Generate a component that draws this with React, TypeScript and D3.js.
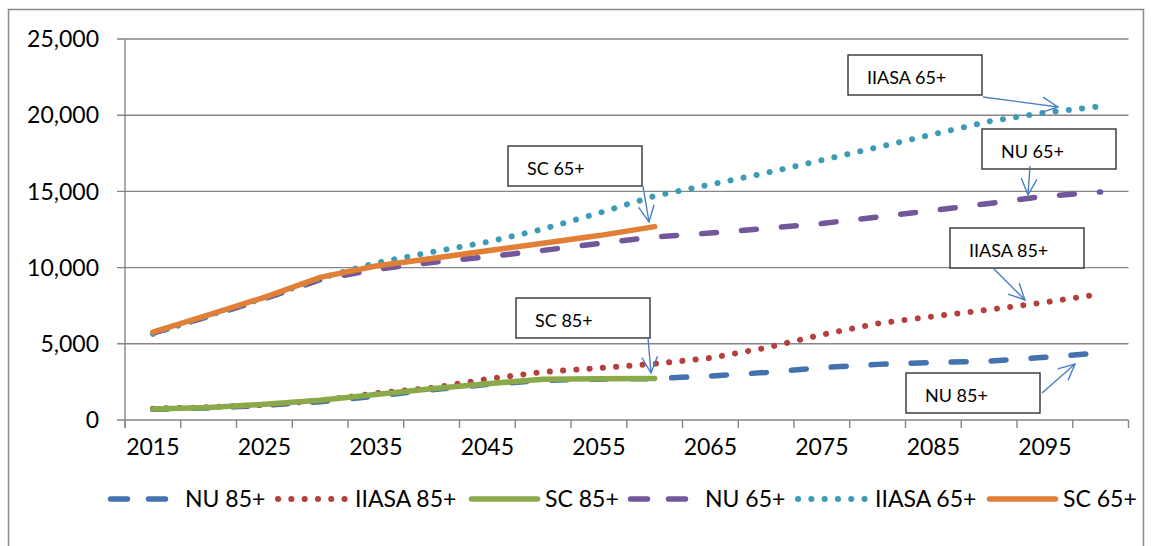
import React from 'react';
import * as d3 from 'd3';

const years = [2015, 2020, 2025, 2030, 2035, 2040, 2045, 2050, 2055, 2060, 2065, 2070, 2075, 2080, 2085, 2090, 2095, 2100];
const xTickLabels = ['2015', '2025', '2035', '2045', '2055', '2065', '2075', '2085', '2095'];
const yTicks = [0, 5000, 10000, 15000, 20000, 25000];

const nu85 = [700, 790, 960, 1200, 1560, 1980, 2330, 2600, 2680, 2720, 2890, 3120, 3440, 3650, 3770, 3870, 4110, 4400];
const iiasa85 = [740, 840, 990, 1280, 1750, 2100, 2690, 3150, 3410, 3690, 4070, 4740, 5600, 6330, 6800, 7240, 7720, 8270];
const sc85 = [720, 820, 1030, 1300, 1680, 2050, 2380, 2680, 2700, 2720, null, null, null, null, null, null, null, null];
const nu65 = [5700, 6800, 7950, 9200, 9880, 10340, 10710, 11130, 11580, 12010, 12270, 12570, 12890, 13320, 13750, 14210, 14680, 14960];
const iiasa65 = [5650, 6850, 8000, 9300, 10300, 11020, 11680, 12530, 13580, 14700, 15450, 16210, 17050, 17900, 18750, 19590, 20170, 20580];
const sc65 = [5760, 6890, 8050, 9360, 10100, 10600, 11100, 11600, 12100, 12690, null, null, null, null, null, null, null, null];

const seriesNames = ['NU 85+', 'IIASA 85+', 'SC 85+', 'NU 65+', 'IIASA 65+', 'SC 65+'];

type Style = { color: string; kind: 'dash' | 'dot' | 'solid' };
const styles: Style[] = [
  { color: '#4472AE', kind: 'dash' },
  { color: '#B3403D', kind: 'dot' },
  { color: '#8AAA4A', kind: 'solid' },
  { color: '#72579B', kind: 'dash' },
  { color: '#3D9BB5', kind: 'dot' },
  { color: '#E07F35', kind: 'solid' },
];
const seriesData = [nu85, iiasa85, sc85, nu65, iiasa65, sc65];

const annLabels = ['IIASA 65+', 'NU 65+', 'SC 65+', 'IIASA 85+', 'SC 85+', 'NU 85+'];
const annBoxes = [
  [848, 55], [982, 129], [508, 146], [950, 228], [516, 298], [906, 373],
];
const annArrows = [
  [983, 97, 1058, 107],
  [1030, 166, 1028, 195],
  [643, 186, 649, 222],
  [993, 268, 1025, 300],
  [648, 338, 651, 373],
  [1042, 393, 1075, 364],
];

const legendX = [108, 277, 469, 628, 797, 987];
const legendTextX = [185, 355, 545, 705, 875, 1063];

const FONT = 'Lato, "Open Sans", sans-serif';

function strokeProps(s: Style) {
  if (s.kind === 'dash') return { strokeDasharray: '15 25', strokeLinecap: 'round' as const, strokeWidth: 5.5 };
  if (s.kind === 'dot') return { strokeDasharray: '0.1 13.2', strokeLinecap: 'round' as const, strokeWidth: 6 };
  return { strokeLinecap: 'round' as const, strokeWidth: 5.5 };
}

export default function App() {
  const W = 1151, H = 546;
  const left = 125, right = 1128.5, top = 39, bottom = 420;
  const x = d3.scaleBand<number>().domain(years).range([left, right]).padding(0);
  const bw = x.bandwidth();
  const cx = (yr: number) => (x(yr) as number) + bw / 2;
  const y = d3.scaleLinear().domain([0, 25000]).range([bottom, top]);

  const line = d3.line<number | null>()
    .defined(v => v != null)
    .x((_, i) => cx(years[i]))
    .y(v => y(v as number));

  const boundaries = years.map(yr => x(yr) as number).concat([right]);

  return (
    <svg width={W} height={H} style={{ position: 'absolute', left: 0, top: 0, background: '#fff' }} fontFamily={FONT}>
      <rect x={0} y={0} width={W} height={H} fill="#fff" />
      <path d={`M8.5,${H} V9.5 H1143.5 V${H}`} fill="none" stroke="#8a8a8a" strokeWidth={1.5} />

      {yTicks.map(t => (
        <g key={t}>
          <line x1={117} x2={right} y1={y(t)} y2={y(t)} stroke="#868686" strokeWidth={1.4} />
          <text x={99} y={y(t)} dy="0.36em" textAnchor="end" fontSize={23} fill="#000">
            {d3.format(',')(t)}
          </text>
        </g>
      ))}
      <line x1={left} x2={left} y1={top} y2={bottom + 8} stroke="#868686" strokeWidth={1.4} />
      {boundaries.map((b, i) => (
        <line key={i} x1={b} x2={b} y1={bottom} y2={bottom + 8} stroke="#868686" strokeWidth={1.4} />
      ))}
      {xTickLabels.map(l => (
        <text key={l} x={cx(+l)} y={455} textAnchor="middle" fontSize={23} fill="#000">{l}</text>
      ))}

      {seriesData.map((d, i) => (
        <path key={i} d={line(d) || ''} fill="none" stroke={styles[i].color} {...strokeProps(styles[i])} />
      ))}

      {annLabels.map((l, i) => {
        const [bx, by] = annBoxes[i];
        const [x1, y1, x2, y2] = annArrows[i];
        const ang = Math.atan2(y2 - y1, x2 - x1);
        const hl = 18, ha = 0.45;
        const p1 = [x2 - hl * Math.cos(ang - ha), y2 - hl * Math.sin(ang - ha)];
        const p2 = [x2 - hl * Math.cos(ang + ha), y2 - hl * Math.sin(ang + ha)];
        return (
          <g key={l}>
            <rect x={bx} y={by} width={134} height={40} fill="#fff" stroke="#333" strokeWidth={1.4} />
            <text x={bx + 19} y={by + 29} fontSize={18} fill="#000">{l}</text>
            <line x1={x1} y1={y1} x2={x2} y2={y2} stroke="#4A7EC4" strokeWidth={1.4} />
            <polyline points={`${p1[0]},${p1[1]} ${x2},${y2} ${p2[0]},${p2[1]}`} fill="none" stroke="#4A7EC4" strokeWidth={1.4} />
          </g>
        );
      })}

      {seriesNames.map((n, i) => {
        const s = styles[i];
        const lx = legendX[i];
        let el;
        if (s.kind === 'dash') {
          el = <line x1={lx + 2.5} x2={lx + 59.5} y1={499} y2={499} stroke={s.color} strokeWidth={5.5} strokeLinecap="round" strokeDasharray="17 21" />;
        } else if (s.kind === 'dot') {
          el = <line x1={lx + 1} x2={lx + 68} y1={499} y2={499} stroke={s.color} strokeWidth={6} strokeLinecap="round" strokeDasharray="0.1 13.2" />;
        } else {
          el = <line x1={lx + 2.5} x2={lx + 68.5} y1={499} y2={499} stroke={s.color} strokeWidth={5.5} strokeLinecap="round" />;
        }
        return (
          <g key={n}>
            {el}
            <text x={legendTextX[i]} y={507} fontSize={23} fill="#000">{n}</text>
          </g>
        );
      })}
    </svg>
  );
}
